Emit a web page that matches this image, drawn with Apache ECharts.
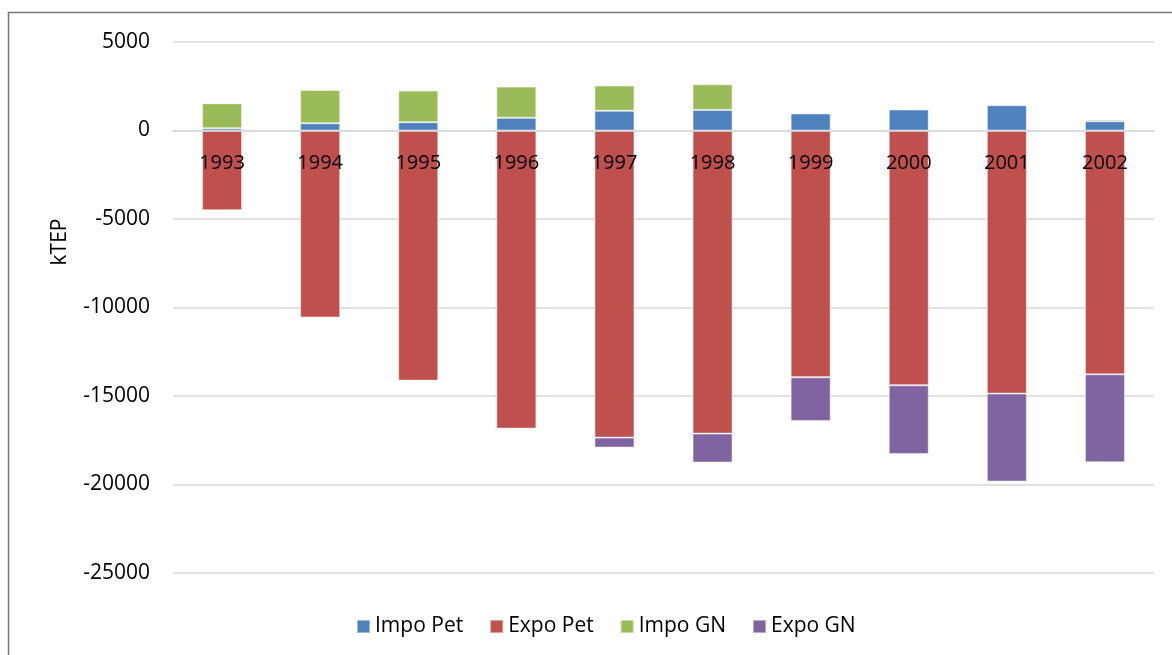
<!DOCTYPE html>
<html>
<head>
<meta charset="utf-8">
<script src="https://cdn.jsdelivr.net/npm/echarts@6/dist/echarts.min.js"></script>
<style>
  html, body { margin: 0; padding: 0; background: #fff; }
  #chart { width: 1172px; height: 655px; }
</style>
</head>
<body>
<div id="chart"></div>
<script>
// Energy trade balance, kTEP per year
const years = ['1993', '1994', '1995', '1996', '1997', '1998', '1999', '2000', '2001', '2002'];
const impoPet = [130, 410, 470, 715, 1110, 1165, 960, 1185, 1430, 525];
const expoPet = [-4500, -10560, -14130, -16840, -17350, -17125, -13940, -14395, -14865, -13775];
const impoGN = [1410, 1885, 1785, 1765, 1430, 1445, 0, 0, 0, 95];
const expoGN = [0, 0, 0, 0, -565, -1635, -2470, -3880, -4970, -4970];
const yTicks = { min: -25000, max: 5000, interval: 5000 };

const FONT = 'Open Sans';
const GRID = { left: 173, right: 18, top: 42, bottom: 82 };
const CHART_H = 655;

// the category axis sits on the zero line; compute its offset from the bottom edge
const plotH = CHART_H - GRID.top - GRID.bottom;
const zeroY = GRID.top + (yTicks.max / (yTicks.max - yTicks.min)) * plotH;
const xAxisOffset = -((CHART_H - GRID.bottom) - zeroY);

const chart = echarts.init(document.getElementById('chart'), null, { renderer: 'canvas' });

function barSeries(name, data, color) {
  return {
    name: name,
    type: 'bar',
    stack: 'total',
    stackStrategy: 'samesign',
    data: data,
    barWidth: 40,
    itemStyle: { color: color, borderColor: 'rgba(255,255,255,0.45)', borderWidth: 1 },
    emphasis: { disabled: true }
  };
}

chart.setOption({
  backgroundColor: '#ffffff',
  animation: false,
  textStyle: { fontFamily: FONT },
  grid: Object.assign({ containLabel: false }, GRID),
  legend: {
    bottom: 13,
    left: 351,
    itemWidth: 13,
    itemHeight: 13,
    itemGap: 26,
    icon: 'rect',
    textStyle: { fontFamily: FONT, fontSize: 21, color: '#000' },
    data: ['Impo Pet', 'Expo Pet', 'Impo GN', 'Expo GN']
  },
  xAxis: {
    type: 'category',
    data: years,
    offset: xAxisOffset,
    axisLine: { show: true, onZero: false, lineStyle: { color: '#d9d9d9', width: 1.5 } },
    axisTick: { show: false },
    axisLabel: { fontFamily: FONT, fontSize: 20, color: '#000', margin: 23 },
    z: 5
  },
  yAxis: {
    type: 'value',
    min: yTicks.min,
    max: yTicks.max,
    interval: yTicks.interval,
    axisLine: { show: false },
    axisTick: { show: false },
    axisLabel: {
      fontFamily: FONT, fontSize: 21, color: '#000', margin: 23,
      formatter: function (v) { return String(v); }
    },
    splitLine: { lineStyle: { color: '#d9d9d9', width: 1.5 } }
  },
  graphic: [
    {
      type: 'rect',
      shape: { x: 8.5, y: 12.5, width: 1200, height: 700 },
      style: { fill: 'none', stroke: '#767676', lineWidth: 1.5 },
      silent: true
    },
    {
      type: 'text',
      x: 60,
      y: 242,
      rotation: Math.PI / 2,
      style: {
        text: 'kTEP',
        fontFamily: FONT,
        fontSize: 21,
        fill: '#000',
        align: 'center',
        verticalAlign: 'middle'
      },
      silent: true
    }
  ],
  series: [
    barSeries('Impo Pet', impoPet, '#4f81bd'),
    barSeries('Expo Pet', expoPet, '#c0504d'),
    barSeries('Impo GN', impoGN, '#9bbb59'),
    barSeries('Expo GN', expoGN, '#8064a2')
  ]
});
</script>
</body>
</html>
